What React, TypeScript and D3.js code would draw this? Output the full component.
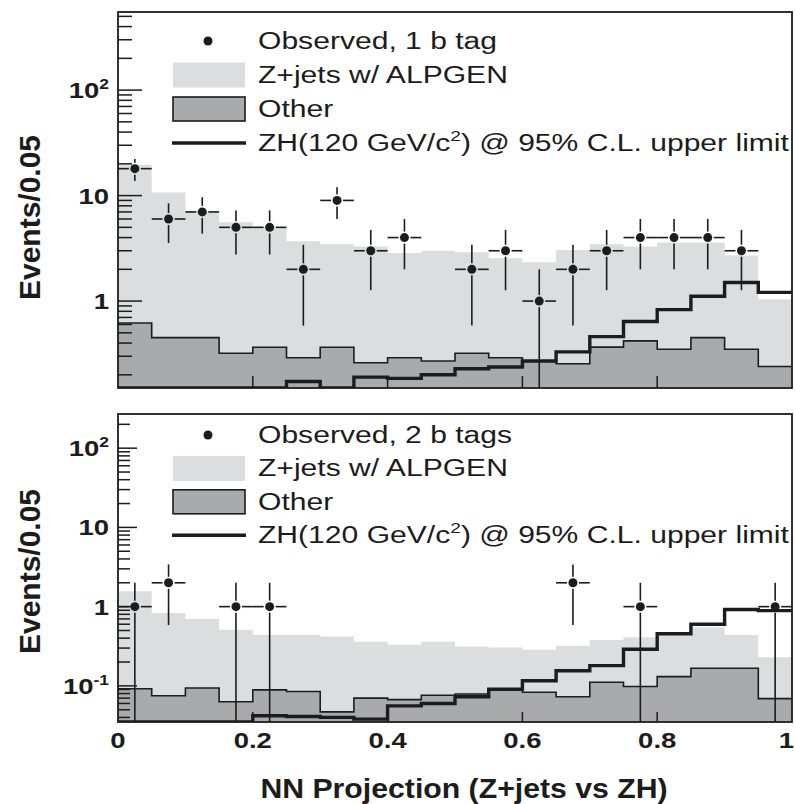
import React from 'react';
import * as d3 from 'd3';

// ---------- data ----------
const binLow = [0, 0.05, 0.1, 0.15, 0.2, 0.25, 0.3, 0.35, 0.4, 0.45, 0.5, 0.55, 0.6, 0.65, 0.7, 0.75, 0.8, 0.85, 0.9, 0.95];
const binWidth = 0.05;

// 1 b tag
const obs1b = [18, 6, 7, 5, 5, 2, 9, 3, 4, 0, 2, 3, 1, 2, 3, 4, 4, 4, 3, 0];
const zjets1b = [19.6, 10.7, 7.1, 5.6, 4.9, 3.7, 3.45, 3.3, 2.85, 3.0, 2.9, 2.55, 2.33, 3.05, 3.45, 3.3, 3.6, 3.6, 2.7, 1.04];
const other1b = [0.62, 0.45, 0.45, 0.32, 0.365, 0.29, 0.365, 0.26, 0.29, 0.27, 0.32, 0.29, 0.27, 0.255, 0.366, 0.42, 0.35, 0.45, 0.35, 0.24];
const zh1b = [0.08, 0.09, 0.1, 0.11, 0.13, 0.173, 0.14, 0.19, 0.185, 0.2, 0.228, 0.237, 0.27, 0.33, 0.46, 0.64, 0.83, 1.11, 1.5, 1.21];

// 2 b tags
const obs2b = [1, 2, 0, 1, 1, 0, 0, 0, 0, 0, 0, 0, 0, 2, 0, 1, 0, 0, 0, 1];
const zjets2b = [1.56, 0.83, 0.7, 0.51, 0.44, 0.44, 0.42, 0.36, 0.33, 0.36, 0.315, 0.306, 0.286, 0.32, 0.38, 0.41, 0.47, 0.55, 0.44, 0.23];
const other2b = [0.092, 0.075, 0.094, 0.063, 0.089, 0.085, 0.047, 0.07, 0.067, 0.076, 0.079, 0.088, 0.083, 0.073, 0.111, 0.098, 0.131, 0.167, 0.167, 0.069];
const zh2b = [0.03, 0.03, 0.03, 0.03, 0.042, 0.041, 0.04, 0.038, 0.056, 0.06, 0.073, 0.091, 0.116, 0.155, 0.18, 0.29, 0.455, 0.6, 0.92, 0.89];

const xTicks = [0, 0.2, 0.4, 0.6, 0.8, 1];
const xTickLabels = ['0', '0.2', '0.4', '0.6', '0.8', '1'];

const yLabels1b = [
  { v: 100, base: '10', sup: '2' },
  { v: 10, base: '10', sup: '' },
  { v: 1, base: '1', sup: '' },
];
const yLabels2b = [
  { v: 100, base: '10', sup: '2' },
  { v: 10, base: '10', sup: '' },
  { v: 1, base: '1', sup: '' },
  { v: 0.1, base: '10', sup: '-1' },
];

const legend1b = ['Observed, 1 b tag', 'Z+jets w/ ALPGEN', 'Other'];
const legend2b = ['Observed, 2 b tags', 'Z+jets w/ ALPGEN', 'Other'];

const yTitle = 'Events/0.05';
const xTitle = 'NN Projection (Z+jets vs ZH)';

// ---------- style ----------
const W = 796;
const H = 804;
const X0 = 118;
const X1 = 792;
const INK = '#1c1c1c';
const LIGHT = '#dcdddf';
const DARK = '#a9aaac';
const FONT = "'Liberation Sans', Arial, Helvetica, sans-serif";

const xScale = d3.scaleLinear().domain([0, 1]).range([X0, X1]);

function SText(props: {
  x: number; y: number; sx?: number; anchor?: string; size: number; weight?: string | number; children: any;
}) {
  const { x, y, sx = 1, anchor = 'start', size, weight = 'normal', children } = props;
  return (
    <g transform={`translate(${x},${y}) scale(${sx},1)`}>
      <text textAnchor={anchor as any} fontSize={size} fontWeight={weight as any} fontFamily={FONT} fill={INK}>
        {children}
      </text>
    </g>
  );
}

interface PanelCfg {
  id: string;
  top: number;
  bottom: number;
  yMin: number;
  yMax: number;
  obs: number[];
  zjets: number[];
  other: number[];
  zh: number[];
  yLabels: { v: number; base: string; sup: string }[];
  legend: string[];
  legendY: number;
  legendStep: number;
  majorLen: number;
  minorLen: number;
  xTickLen: number;
  yTitleCenter: number;
  showXLabels: boolean;
}

function Panel({ cfg }: { cfg: PanelCfg }) {
  const { top, bottom, yMin, yMax } = cfg;
  const y = d3.scaleLog().domain([yMin, yMax]).range([bottom, top]).clamp(true);

  const pts = (vals: number[]) =>
    binLow.map((b, i) => ({ x: b, v: vals[i] })).concat([{ x: 1, v: vals[vals.length - 1] }]);

  const area = d3
    .area<{ x: number; v: number }>()
    .curve(d3.curveStepAfter)
    .x((d) => xScale(d.x))
    .y0(bottom)
    .y1((d) => y(d.v));
  const line = d3
    .line<{ x: number; v: number }>()
    .curve(d3.curveStepAfter)
    .x((d) => xScale(d.x))
    .y((d) => y(d.v));

  // y ticks (log)
  const ticks: { v: number; major: boolean }[] = [];
  for (let e = Math.floor(Math.log10(yMin)); e <= Math.ceil(Math.log10(yMax)); e++) {
    for (let k = 1; k <= 9; k++) {
      const v = k * Math.pow(10, e);
      if (v >= yMin && v <= yMax) ticks.push({ v, major: k === 1 });
    }
  }

  const clipId = `clip-${cfg.id}`;
  const gap = 6;
  const r = 4.5;
  const lx0 = 173;
  const lx1 = 245;
  const rows = [0, 1, 2, 3].map((i) => cfg.legendY + i * cfg.legendStep);

  return (
    <g>
      <defs>
        <clipPath id={clipId}>
          <rect x={X0} y={top} width={X1 - X0} height={bottom - top} />
        </clipPath>
      </defs>
      <g clipPath={`url(#${clipId})`}>
        <path d={area(pts(cfg.zjets)) || ''} fill={LIGHT} />
        <path d={area(pts(cfg.other)) || ''} fill={DARK} />
        <path d={line(pts(cfg.other)) || ''} fill="none" stroke={INK} strokeWidth={1.6} />
        <path d={line(pts(cfg.zh)) || ''} fill="none" stroke={INK} strokeWidth={3.4} strokeLinejoin="miter" />
        {cfg.obs.map((n, i) => {
          if (n <= 0) return null;
          const cx = xScale(binLow[i] + binWidth / 2);
          const cy = y(n);
          const err = Math.sqrt(n);
          const yHi = y(n + err);
          const yLo = y(Math.max(n - err, yMin * 0.5));
          const xl = xScale(binLow[i]);
          const xr = xScale(binLow[i] + binWidth);
          return (
            <g key={i} stroke={INK} strokeWidth={1.6}>
              <line x1={cx} x2={cx} y1={yHi} y2={cy - gap} />
              <line x1={cx} x2={cx} y1={cy + gap} y2={yLo} />
              <line x1={xl} x2={cx - gap} y1={cy} y2={cy} />
              <line x1={cx + gap} x2={xr} y1={cy} y2={cy} />
              <circle cx={cx} cy={cy} r={r} fill={INK} stroke="none" />
            </g>
          );
        })}
      </g>

      {/* frame */}
      <rect x={X0} y={top} width={X1 - X0} height={bottom - top} fill="none" stroke={INK} strokeWidth={1.8} />

      {/* y ticks */}
      {ticks.map((t, i) => (
        <line
          key={i}
          x1={X0}
          x2={X0 + (t.major ? cfg.majorLen : cfg.minorLen)}
          y1={y(t.v)}
          y2={y(t.v)}
          stroke={INK}
          strokeWidth={1.5}
        />
      ))}
      {/* x ticks */}
      {xTicks.slice(1, -1).map((t, i) => (
        <line key={i} x1={xScale(t)} x2={xScale(t)} y1={bottom} y2={bottom - cfg.xTickLen} stroke={INK} strokeWidth={1.5} />
      ))}

      {/* y tick labels */}
      {cfg.yLabels.map((l, i) => (
        <SText key={i} x={109} y={y(l.v) + 8} sx={1.25} anchor="end" size={22} weight="bold">
          {l.base}
          {l.sup ? (
            <tspan fontSize={14} dy={-9}>
              {l.sup}
            </tspan>
          ) : null}
        </SText>
      ))}

      {/* x tick labels */}
      {cfg.showXLabels &&
        xTicks.map((t, i) => {
          const last = i === xTicks.length - 1;
          return (
            <SText
              key={i}
              x={last ? W - 2 : xScale(t)}
              y={bottom + 26}
              sx={1.25}
              anchor={last ? 'end' : 'middle'}
              size={22}
              weight="bold"
            >
              {xTickLabels[i]}
            </SText>
          );
        })}

      {/* y title */}
      <g transform={`translate(40,${cfg.yTitleCenter}) rotate(-90)`}>
        <text textAnchor="middle" fontSize={30} fontWeight="bold" fontFamily={FONT} fill={INK}>
          {yTitle}
        </text>
      </g>

      {/* legend */}
      <circle cx={208} cy={rows[0]} r={r} fill={INK} />
      <rect x={lx0} y={rows[1] - 12.5} width={lx1 - lx0} height={25} fill={LIGHT} />
      <rect x={lx0} y={rows[2] - 12} width={lx1 - lx0} height={24} fill={DARK} stroke={INK} strokeWidth={1.6} />
      <line x1={lx0 - 1} x2={lx1 + 1} y1={rows[3]} y2={rows[3]} stroke={INK} strokeWidth={3.4} />
      {cfg.legend.map((t, i) => (
        <SText key={i} x={258} y={rows[i] + 8} sx={1.28} size={23.5}>
          {t}
        </SText>
      ))}
      <SText x={258} y={rows[3] + 8} sx={1.28} size={23.5}>
        {'ZH(120 GeV/c'}
        <tspan fontSize={15} dy={-10}>
          2
        </tspan>
        <tspan dy={10}>{') @ 95% C.L. upper limit'}</tspan>
      </SText>
    </g>
  );
}

const panel1: PanelCfg = {
  id: 'p1',
  top: 12,
  bottom: 388,
  yMin: 0.15,
  yMax: 550,
  obs: obs1b,
  zjets: zjets1b,
  other: other1b,
  zh: zh1b,
  yLabels: yLabels1b,
  legend: legend1b,
  legendY: 41,
  legendStep: 34,
  majorLen: 24,
  minorLen: 14,
  xTickLen: 12,
  yTitleCenter: 217.5,
  showXLabels: false,
};

const panel2: PanelCfg = {
  id: 'p2',
  top: 414,
  bottom: 722,
  yMin: 0.035,
  yMax: 270,
  obs: obs2b,
  zjets: zjets2b,
  other: other2b,
  zh: zh2b,
  yLabels: yLabels2b,
  legend: legend2b,
  legendY: 435,
  legendStep: 33.4,
  majorLen: 19,
  minorLen: 12,
  xTickLen: 10,
  yTitleCenter: 571.5,
  showXLabels: true,
};

export default function App() {
  return (
    <svg
      width={W}
      height={H}
      viewBox={`0 0 ${W} ${H}`}
      style={{ position: 'absolute', left: 0, top: 0, background: '#fff' }}
    >
      <rect x={0} y={0} width={W} height={H} fill="#fff" />
      <Panel cfg={panel1} />
      <Panel cfg={panel2} />
      <SText x={464} y={798} sx={1.08} anchor="middle" size={28} weight="bold">
        {xTitle}
      </SText>
    </svg>
  );
}
